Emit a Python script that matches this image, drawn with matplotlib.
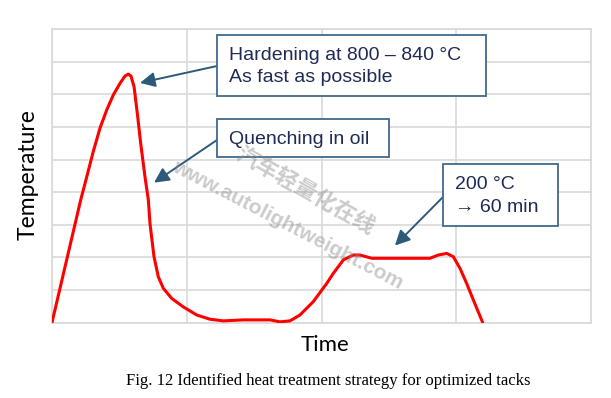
import matplotlib.pyplot as plt
from matplotlib.patches import Rectangle

# curve (time, temperature in grid units)
time = [0.0, 0.213, 0.258, 0.306, 0.356, 0.406, 0.455, 0.505, 0.542, 0.566,
        0.586, 0.609, 0.633, 0.658, 0.690, 0.715, 0.727, 0.757, 0.789, 0.826,
        0.888, 0.974, 1.074, 1.173, 1.271, 1.420, 1.618, 1.692, 1.766, 1.840,
        1.939, 2.039, 2.088, 2.162, 2.236, 2.286, 2.373, 2.583, 2.805, 2.867,
        2.929, 2.978, 3.028, 3.077, 3.127, 3.196]
temp = [0.0, 3.76, 4.47, 5.24, 5.96, 6.52, 6.98, 7.34, 7.56, 7.62,
        7.56, 7.23, 6.42, 5.50, 4.47, 3.76, 3.04, 2.02, 1.40, 1.05,
        0.74, 0.48, 0.23, 0.10, 0.05, 0.08, 0.08, 0.02, 0.05, 0.23,
        0.64, 1.20, 1.51, 1.92, 2.07, 2.07, 1.97, 1.97, 1.97, 2.07,
        2.12, 2.02, 1.66, 1.20, 0.69, 0.0]

labels = ["Hardening at 800 \u2013 840 \u00b0C\nAs fast as possible",
          "Quenching in oil",
          "200 \u00b0C\n\u2192 60 min"]
# arrow tips in data units
tips = [(0.653, 7.35), (0.757, 4.29), (2.545, 2.36)]

W, H = 611, 398
fig = plt.figure(figsize=(W / 100, H / 100), dpi=100)
ax = fig.add_axes([52 / W, 1 - 322.5 / H, 539 / W, 293.4 / H])
ax.set_xlim(0, 4)
ax.set_ylim(0, 9)
ax.set_xticks(range(5))
ax.set_yticks(range(10))
ax.tick_params(length=0, labelbottom=False, labelleft=False)
ax.grid(True, color='#d9d9d9', lw=1.2)
for s in ax.spines.values():
    s.set_color('#d9d9d9')
    s.set_linewidth(1.2)
ax.set_axisbelow(True)

ax.plot(time, temp, color='#ff0000', lw=2.2, solid_joinstyle='round',
        solid_capstyle='round', zorder=3)

# annotation boxes (pixel geometry: x0, y0, x1, y1) and arrow tails
boxes = [(217, 35, 486, 96), (217, 119, 389, 157), (443, 164, 558, 226)]
tails = [(217, 66), (217, 140), (443, 197)]
for lab, (x0, y0, x1, y1), (tx, ty), tip in zip(labels, boxes, tails, tips):
    fig.patches.append(Rectangle((x0 / W, 1 - y1 / H), (x1 - x0) / W, (y1 - y0) / H,
                                 transform=fig.transFigure, facecolor='white',
                                 edgecolor='#41698c', lw=1.3, zorder=5))
    fig.text((x0 + 12) / W, 1 - ((y0 + y1) / 2 + 1) / H, lab, ha='left', va='center',
             fontsize=14, color='#1f2b57', family=['Liberation Sans', 'DejaVu Sans'],
             linespacing=1.45, zorder=6)
    ax.annotate('', xy=tip, xycoords='data',
                xytext=(tx / W, 1 - ty / H), textcoords='figure fraction',
                arrowprops=dict(arrowstyle='-|>,head_length=0.9,head_width=0.45',
                                color='#2e5a7a', lw=1.4, shrinkA=0, shrinkB=0),
                zorder=4)

# watermark, drawn over everything
fig.text(288 / W, 1 - 225 / H, 'www.autolightweight.com', rotation=-27.5,
         ha='center', va='center', fontsize=15, fontweight='bold',
         color='#8c8c8c', alpha=0.45, family=['Liberation Sans'], zorder=10)
fig.text(305 / W, 1 - 191 / H, '汽车轻量化在线', rotation=-29.5,
         ha='center', va='center', fontsize=16, fontweight='bold',
         color='#8c8c8c', alpha=0.45, family=['Noto Sans CJK SC'], zorder=10)

fig.text(28 / W, 1 - 175 / H, 'Temperature', rotation=90, ha='center', va='center',
         fontsize=16.5, family=['Lato'])
fig.text(325 / W, 1 - 345 / H, 'Time', ha='center', va='center',
         fontsize=16, family=['Lato'])
fig.text(328 / W, 1 - 381 / H, 'Fig. 12 Identified heat treatment strategy for optimized tacks',
         ha='center', va='center', fontsize=12, family=['Liberation Serif'])

fig.savefig('out.png', dpi=100)
